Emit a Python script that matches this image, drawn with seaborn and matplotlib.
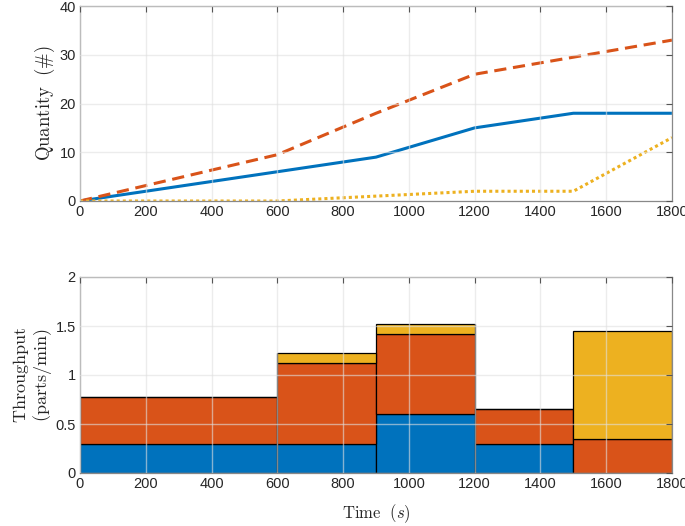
import numpy as np
import pandas as pd
import matplotlib
matplotlib.use('Agg')
import matplotlib.pyplot as plt
import seaborn as sns

# MATLAB default colours
colors = ['#0072BD', '#D95319', '#EDB120']

# Top panel: cumulative quantity
t = [0, 300, 600, 900, 1200, 1500, 1800]
q_blue = [0, 3, 6, 9, 15, 18, 18]
q_orange = [0, 4.75, 9.5, 18, 26, 29.5, 33]
q_yellow = [0, 0, 0, 1, 2, 2, 13]

# Bottom panel: throughput per interval (stacked)
edges = [0, 600, 900, 1200, 1500, 1800]
thr_blue = [0.3, 0.3, 0.6, 0.3, 0.0]
thr_orange = [0.475, 0.82, 0.82, 0.35, 0.35]
thr_yellow = [0.0, 0.1, 0.1, 0.0, 1.1]

sns.set_style('white')
plt.rcParams['font.family'] = ['Liberation Sans', 'DejaVu Sans']
plt.rcParams['mathtext.fontset'] = 'cm'

fig = plt.figure(figsize=(6.85, 5.26), dpi=100)
ax1 = fig.add_axes([80/685, 1-201/526, 592/685, 195/526])
ax2 = fig.add_axes([80/685, 1-473/526, 592/685, 196/526])

df = pd.DataFrame({'t': t * 3,
                   'q': q_blue + q_orange + q_yellow,
                   's': ['a'] * 7 + ['b'] * 7 + ['c'] * 7})
sns.lineplot(data=df, x='t', y='q', hue='s', style='s', palette=colors,
             dashes={'a': '', 'b': (4, 2.2), 'c': (1, 1)},
             linewidth=2.2, legend=False, ax=ax1)

left = np.array(edges[:-1])
width = np.diff(edges)
b1 = np.array(thr_blue)
b2 = b1 + np.array(thr_orange)
ax2.bar(left, thr_blue, width=width, align='edge', color=colors[0],
        edgecolor='black', linewidth=0.9)
ax2.bar(left, thr_orange, width=width, bottom=b1, align='edge',
        color=colors[1], edgecolor='black', linewidth=0.9)
ax2.bar(left, thr_yellow, width=width, bottom=b2, align='edge',
        color=colors[2], edgecolor='black', linewidth=0.9)

for ax in (ax1, ax2):
    ax.set_xlim(0, 1800)
    ax.set_xticks(range(0, 1801, 200))
    ax.set_axisbelow(False)
    ax.grid(True, color='#e0e0e0', alpha=0.6, linewidth=1.0)
    ax.tick_params(direction='in', length=4, top=True, right=True,
                   labelsize=10.5, color='#555555', pad=3)
    for sp in ax.spines.values():
        sp.set_color('#888888')
        sp.set_linewidth(0.9)
    ax.set_xlabel('')

ax1.set_ylim(0, 40)
ax1.set_yticks(range(0, 41, 10))
ax1.set_ylabel(r'$\mathrm{Quantity\ \ (\#)}$', fontsize=13.5, labelpad=2)

ax2.set_ylim(0, 2)
ax2.set_yticks([0, 0.5, 1, 1.5, 2])
ax2.set_yticklabels(['0', '0.5', '1', '1.5', '2'])
ax2.set_ylabel('$\\mathrm{Throughput}$\n$\\mathrm{(parts/min)}$',
               fontsize=13, labelpad=1, linespacing=1.0)
ax2.set_xlabel(r'$\mathrm{Time}\ \ (s)$', fontsize=12, labelpad=8)

fig.savefig('out.png', dpi=100)
